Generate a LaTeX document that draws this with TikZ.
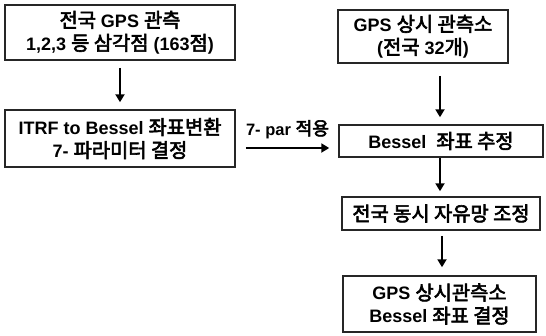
\documentclass[tikz,border=0pt]{standalone}
\usepackage{fontspec}
\setmainfont{Liberation Sans}
\newfontfamily\krf{Noto Sans CJK KR}[AutoFakeBold=3,Scale=1.1]
\newcommand{\K}[1]{{\krf\bfseries #1}}
\usetikzlibrary{arrows.meta,calc}
\tikzset{
  box/.style={draw=black!85, line width=1.5pt, align=center, font=\fontsize{18}{23}\selectfont\bfseries, inner sep=0pt},
  arr/.style={line width=2.4pt, -{Triangle[length=8pt,width=9pt]}},
}
\begin{document}
\begin{tikzpicture}[x=1pt,y=-1pt]
\useasboundingbox (0,0) rectangle (546,335);
\node[box, minimum width=230, minimum height=55] (b1) at (120,32.5) {\K{전국} GPS \K{관측}\\1,2,3 \K{등 삼각점} (163\K{점})};
\node[box, minimum width=230, minimum height=57] (b2) at (120,138.5) {ITRF to Bessel \K{좌표변환}\\7- \K{파라미터 결정}};
\node[box, minimum width=170, minimum height=53] (b3) at (423,36.5) {GPS \K{상시 관측소}\\(\K{전국} 32\K{개})};
\node[box, minimum width=204, minimum height=32] (b4) at (441,141) {Bessel~~\K{좌표 추정}};
\node[box, minimum width=198, minimum height=33] (b5) at (441,213.5) {\K{전국 동시 자유망 조정}};
\node[box, minimum width=193, minimum height=56] (b6) at (439.5,304) {GPS \K{상시관측소}\\Bessel \K{좌표 결정}};
\draw[arr, shorten <=7pt, shorten >=7pt] (b1.south) -- (b2.north);
\draw[arr] ($(b3.south)+(17,12)$) -- ($(b4.north)+(-1,-7)$);
\draw[arr] ($(b4.south)+(-1,0)$) -- ($(b5.north)+(-1,-5)$);
\draw[arr] ($(b5.south)+(1,5)$) -- ($(b6.north)+(2.5,-8)$);
\draw[arr] ($(b2.east)+(10,9.5)$) -- node[above=5pt, font=\fontsize{16.5}{18}\selectfont\bfseries] (lbl) {7- par \K{적용}} ($(b4.west)+(-9,7)$);
\end{tikzpicture}
\end{document}
